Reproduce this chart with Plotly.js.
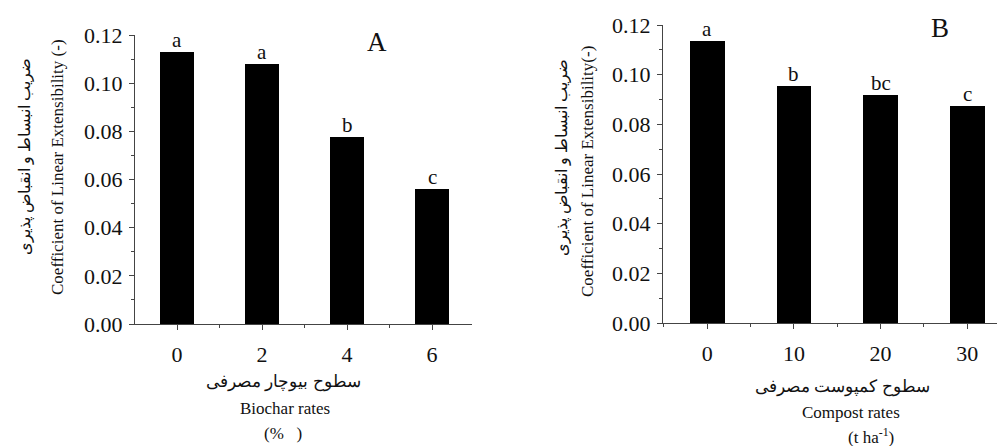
<!DOCTYPE html>
<html>
<head>
<meta charset="utf-8">
<script src="https://cdn.plot.ly/plotly-3.0.1.min.js"></script>
<style>html,body{margin:0;padding:0;background:#fff;}#chart{width:998px;height:446px;}</style>
</head>
<body>
<div id="chart"></div>
<script>
// Panel A: biochar
const biocharRates = [0, 2, 4, 6];
const biocharTickText = ['0', '2', '4', '6'];
const biocharCLE = [0.113, 0.108, 0.0775, 0.056];
const biocharLetters = ['a', 'a', 'b', 'c'];

// Panel B: compost
const compostRates = [0, 10, 20, 30];
const compostTickText = ['0', '10', '20', '30'];
const compostCLE = [0.1135, 0.0955, 0.0918, 0.0873];
const compostLetters = ['a', 'b', 'bc', 'c'];

const yTitleFa = 'ضریب انبساط و انقباض پذیری';
const yTitleEnA = 'Coefficient of Linear Extensibility (-)';
const yTitleEnB = 'Coefficient of Linear Extensibility(-)';
const xTitleFaA = 'سطوح بیوچار مصرفی';
const xTitleEnA = 'Biochar rates';
const xUnitA = '(%\u00a0\u00a0\u00a0)';
const xTitleFaB = 'سطوح کمپوست مصرفی';
const xTitleEnB = 'Compost rates';
const xUnitB = '(t ha<sup>-1</sup>)';

const SERIF = 'Liberation Serif, serif';
const AX = '#444';

const traces = [
  {type: 'bar', x: biocharRates, y: biocharCLE, width: 0.8, xaxis: 'x', yaxis: 'y',
   marker: {color: '#000', line: {width: 0}}, hoverinfo: 'none'},
  {type: 'bar', x: compostRates, y: compostCLE, width: 4, xaxis: 'x2', yaxis: 'y2',
   marker: {color: '#000', line: {width: 0}}, hoverinfo: 'none'}
];

function xAxis(domain, range, vals, texts, minorDt, anchor) {
  return {domain: domain, range: range, anchor: anchor, tickmode: 'array', tickvals: vals, ticktext: texts,
    showline: true, linecolor: AX, linewidth: 1, ticks: 'outside', ticklen: 5, tickcolor: AX,
    showgrid: false, zeroline: false, ticklabelstandoff: 6,
    tickfont: {family: SERIF, size: 22, color: '#111'},
    minor: {dtick: minorDt, ticks: 'outside', ticklen: 3, tickcolor: AX, showgrid: false}};
}
function yAxis(domain, anchor) {
  return {domain: domain, range: [0, 0.12], anchor: anchor, dtick: 0.02, tickformat: '.2f',
    showline: true, linecolor: AX, linewidth: 1, ticks: 'outside', ticklen: 5, tickcolor: AX,
    showgrid: false, zeroline: false, ticklabelstandoff: 2,
    tickfont: {family: SERIF, size: 22, color: '#111'},
    minor: {dtick: 0.01, ticks: 'outside', ticklen: 3, tickcolor: AX, showgrid: false}};
}

const annotations = [];
biocharRates.forEach((r, i) => annotations.push({x: r, y: biocharCLE[i], xref: 'x', yref: 'y',
  text: biocharLetters[i], showarrow: false, yanchor: 'bottom', yshift: -2,
  font: {family: SERIF, size: 21, color: '#111'}}));
compostRates.forEach((r, i) => annotations.push({x: r, y: compostCLE[i], xref: 'x2', yref: 'y2',
  text: compostLetters[i], showarrow: false, yanchor: 'bottom', yshift: -2,
  font: {family: SERIF, size: 21, color: '#111'}}));

function txt(text, xpx, ypx, size, angle) {
  return {text: text, x: xpx / 998, y: 1 - ypx / 446, xref: 'paper', yref: 'paper',
    showarrow: false, xanchor: 'center', yanchor: 'middle', textangle: angle || 0,
    font: {family: SERIF, size: size, color: '#111'}};
}
// panel letters
annotations.push(txt('A', 377, 42, 27));
annotations.push(txt('B', 940, 28, 27));
// y titles
annotations.push(txt(yTitleFa, 25, 157, 16, -90));
annotations.push(txt(yTitleEnA, 57, 167, 17, -90));
annotations.push(txt(yTitleFa, 562, 158, 16, -90));
annotations.push(txt(yTitleEnB, 587, 172, 17, -90));
// x titles
annotations.push(txt(xTitleFaA, 283, 382, 17));
annotations.push(txt(xTitleEnA, 285, 408, 17));
annotations.push(txt(xUnitA, 283, 433, 17));
annotations.push(txt(xTitleFaB, 842, 387, 17));
annotations.push(txt(xTitleEnB, 851, 412, 17));
annotations.push(txt(xUnitB, 871, 436, 17));

const layout = {
  width: 998, height: 446, margin: {l: 0, r: 0, t: 0, b: 0},
  paper_bgcolor: '#fff', plot_bgcolor: '#fff', showlegend: false, bargap: 0,
  xaxis: xAxis([135 / 998, 472 / 998], [-0.99, 6.94], biocharRates, biocharTickText, 1, 'y'),
  yaxis: yAxis([1 - 324 / 446, 1 - 35 / 446], 'x'),
  xaxis2: xAxis([663 / 998, 997 / 998], [-5.11, 33.43], compostRates, compostTickText, 5, 'y2'),
  yaxis2: yAxis([1 - 323 / 446, 1 - 25 / 446], 'x2'),
  annotations: annotations
};

Plotly.newPlot('chart', traces, layout, {staticPlot: true, displayModeBar: false});
</script>
</body>
</html>
